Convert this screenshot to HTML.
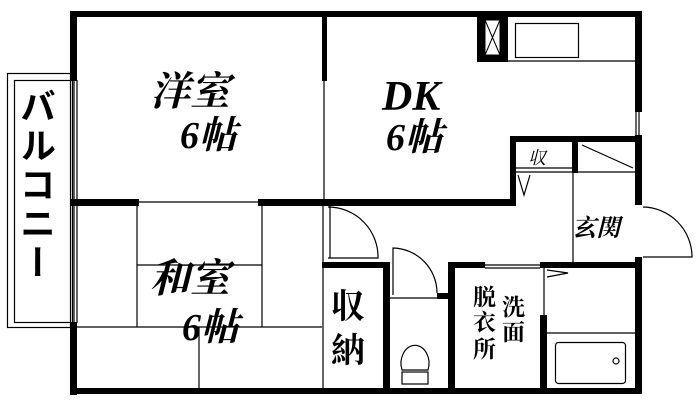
<!DOCTYPE html>
<html><head><meta charset="utf-8"><style>
html,body{margin:0;padding:0;background:#fff;width:700px;height:401px;overflow:hidden;position:relative}
text{font-family:"Liberation Serif","Noto Serif CJK SC",serif;font-style:italic;fill:#000}
#bal{position:absolute;left:18px;top:88px;writing-mode:vertical-rl;font-family:"Noto Sans CJK JP",sans-serif;font-weight:bold;font-size:36px;line-height:40px;letter-spacing:3px;color:#000}
</style></head><body>
<svg width="700" height="401" viewBox="0 0 700 401" xmlns="http://www.w3.org/2000/svg" style="position:absolute;left:0;top:0">
<g fill="none" stroke="#000" stroke-width="1.2">
<rect x="7.5" y="73.5" width="63" height="254"/>
<rect x="14.5" y="80.5" width="58" height="242"/>
<line x1="74" y1="80" x2="74" y2="323"/>
<line x1="77" y1="80" x2="77" y2="323"/>
<line x1="324" y1="80" x2="324" y2="200"/>
<line x1="138" y1="202" x2="258" y2="202"/>
<line x1="137" y1="205" x2="137" y2="327"/>
<line x1="262" y1="205" x2="262" y2="327"/>
<line x1="137" y1="265" x2="262" y2="265"/>
<line x1="77" y1="327" x2="322" y2="327"/>
<line x1="199" y1="327" x2="199" y2="388"/>
<line x1="323" y1="205" x2="323" y2="388"/>
<line x1="330" y1="205" x2="330" y2="258"/>
<path d="M328 258 L378 258 A50 50 0 0 0 328 207"/>
<path d="M393 295 L393 248 A45 45 0 0 1 437 293"/>
<line x1="390" y1="298" x2="437" y2="298"/>
<line x1="485" y1="265" x2="540" y2="265"/>
<line x1="485" y1="268" x2="540" y2="268"/>
<line x1="544" y1="268" x2="544" y2="315"/>
<path d="M547 270 L568 273 L547 277"/>
<line x1="547" y1="333" x2="636" y2="333"/>
<rect x="555.5" y="342.5" width="70" height="41" rx="3"/>
<circle cx="616" cy="361" r="3"/>
<path d="M402 370 A14 18 0 1 1 428 370 Z"/>
<rect x="402" y="372" width="26" height="12"/>
<rect x="515.5" y="23.5" width="63" height="34"/>
<line x1="508" y1="61" x2="635" y2="61"/>
<line x1="636" y1="112" x2="636" y2="135"/>
<line x1="639" y1="112" x2="639" y2="135"/>
<line x1="515" y1="168" x2="572" y2="168"/>
<line x1="515" y1="172" x2="572" y2="172"/>
<path d="M518 175 L524 195 L530 175"/>
<line x1="573" y1="172" x2="573" y2="262"/>
<line x1="577" y1="172" x2="636" y2="172"/>
<line x1="582" y1="145" x2="633" y2="168"/>
<path d="M643 257 L692 257 A50 50 0 0 0 643 207"/>
</g>
<g fill="#000">
<rect x="70" y="11" width="572" height="6"/>
<rect x="70" y="11" width="7" height="70"/>
<rect x="70" y="322" width="7" height="73"/>
<rect x="70" y="388" width="572" height="6"/>
<rect x="635" y="11" width="7" height="101"/>
<rect x="635" y="135" width="7" height="70"/>
<rect x="635" y="257" width="7" height="137"/>
<rect x="322" y="11" width="5" height="70"/>
<rect x="70" y="199" width="69" height="7"/>
<rect x="258" y="199" width="258" height="7"/>
<rect x="510" y="136" width="6" height="70"/>
<rect x="510" y="136" width="130" height="6"/>
<rect x="322" y="262" width="68" height="6"/>
<rect x="383" y="262" width="7" height="132"/>
<rect x="437" y="293" width="13" height="6"/>
<rect x="448" y="262" width="7" height="132"/>
<rect x="448" y="262" width="37" height="6"/>
<rect x="540" y="262" width="100" height="6"/>
<rect x="540" y="315" width="7" height="79"/>
<rect x="572" y="142" width="6" height="31"/>
<rect x="477" y="17" width="31" height="45"/>
</g>
<rect x="485" y="20" width="15" height="35" fill="#fff"/>
<g stroke="#000" stroke-width="1"><line x1="485" y1="20" x2="500" y2="55"/><line x1="500" y1="20" x2="485" y2="55"/><rect x="485" y="20" width="15" height="35" fill="none"/></g>
<g font-weight="bold">
<text x="150" y="105" font-size="40">洋室</text>
<text x="180" y="148" font-size="38">6帖</text>
<text x="382" y="110" font-size="42">DK</text>
<text x="386" y="150" font-size="38">6帖</text>
<text x="150" y="292" font-size="40">和室</text>
<text x="182" y="340" font-size="38">6帖</text>
</g>
<g font-weight="bold">
<text x="331" y="318" font-size="34" style="font-style:normal">収</text>
<text x="331" y="362" font-size="34" style="font-style:normal">納</text>
<text x="502" y="315" font-size="23" style="font-style:normal">洗</text>
<text x="502" y="340" font-size="23" style="font-style:normal">面</text>
<text x="473" y="305" font-size="23" style="font-style:normal">脱</text>
<text x="473" y="330" font-size="23" style="font-style:normal">衣</text>
<text x="473" y="357" font-size="23" style="font-style:normal">所</text>
</g>
<text x="572" y="236" font-size="24" font-weight="bold">玄関</text>
<text x="528" y="164" font-size="18">収</text>
</svg>
<div id="bal">バルコニー</div>
</body></html>
